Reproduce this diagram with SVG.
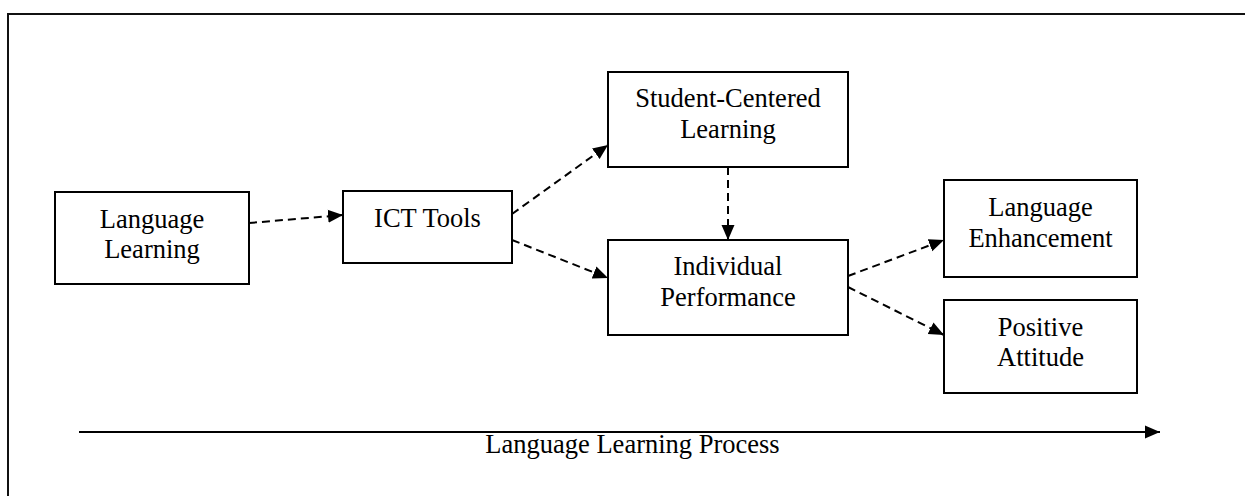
<svg xmlns="http://www.w3.org/2000/svg" width="1245" height="496" viewBox="0 0 1245 496">
<style>
.box{fill:#fff;stroke:#000;stroke-width:2}
.t{font-family:"Liberation Serif","Times New Roman",serif;font-size:26.5px;fill:#000;text-anchor:middle}
.dash{fill:none;stroke:#000;stroke-width:2;stroke-dasharray:8,5}
.solid{fill:none;stroke:#000;stroke-width:2}
</style>
<defs>
<marker id="ah" markerUnits="userSpaceOnUse" markerWidth="16" markerHeight="14" refX="15" refY="6.5" orient="auto" viewBox="0 0 16 13">
<path d="M0,0 L15,6.5 L0,13 z" fill="#000"/>
</marker>
</defs>
<rect x="0" y="0" width="1245" height="496" fill="#fff"/>
<rect x="8" y="14" width="1250" height="500" fill="none" stroke="#111" stroke-width="2"/>
<g id="connectors">
<line class="dash" x1="249" y1="223" x2="343" y2="215" marker-end="url(#ah)"/>
<line class="dash" x1="512" y1="214" x2="608" y2="145" marker-end="url(#ah)"/>
<line class="dash" x1="512" y1="240" x2="608" y2="278" marker-end="url(#ah)"/>
<line class="dash" x1="728" y1="167" x2="728" y2="240" marker-end="url(#ah)"/>
<line class="dash" x1="848" y1="276" x2="944" y2="240" marker-end="url(#ah)"/>
<line class="dash" x1="848" y1="287" x2="944" y2="335" marker-end="url(#ah)"/>
<line class="solid" x1="79" y1="432" x2="1160" y2="432" marker-end="url(#ah)"/>
</g>
<g id="language-learning">
<rect class="box" x="55" y="192" width="194" height="92"/>
<text class="t" x="152" y="228">Language</text>
<text class="t" x="152" y="258">Learning</text>
</g>
<g id="ict-tools">
<rect class="box" x="343" y="191" width="169" height="72"/>
<text class="t" x="427.5" y="227">ICT Tools</text>
</g>
<g id="student-centered">
<rect class="box" x="608" y="72" width="240" height="95"/>
<text class="t" x="728" y="107">Student-Centered</text>
<text class="t" x="728" y="138">Learning</text>
</g>
<g id="individual-performance">
<rect class="box" x="608" y="240" width="240" height="95"/>
<text class="t" x="728" y="275">Individual</text>
<text class="t" x="728" y="306">Performance</text>
</g>
<g id="language-enhancement">
<rect class="box" x="944" y="180" width="193" height="97"/>
<text class="t" x="1040.5" y="216">Language</text>
<text class="t" x="1040.5" y="247">Enhancement</text>
</g>
<g id="positive-attitude">
<rect class="box" x="944" y="300" width="193" height="93"/>
<text class="t" x="1040.5" y="336">Positive</text>
<text class="t" x="1040.5" y="366">Attitude</text>
</g>
<g id="process-label">
<text class="t" x="632.5" y="453">Language Learning Process</text>
</g>
</svg>
